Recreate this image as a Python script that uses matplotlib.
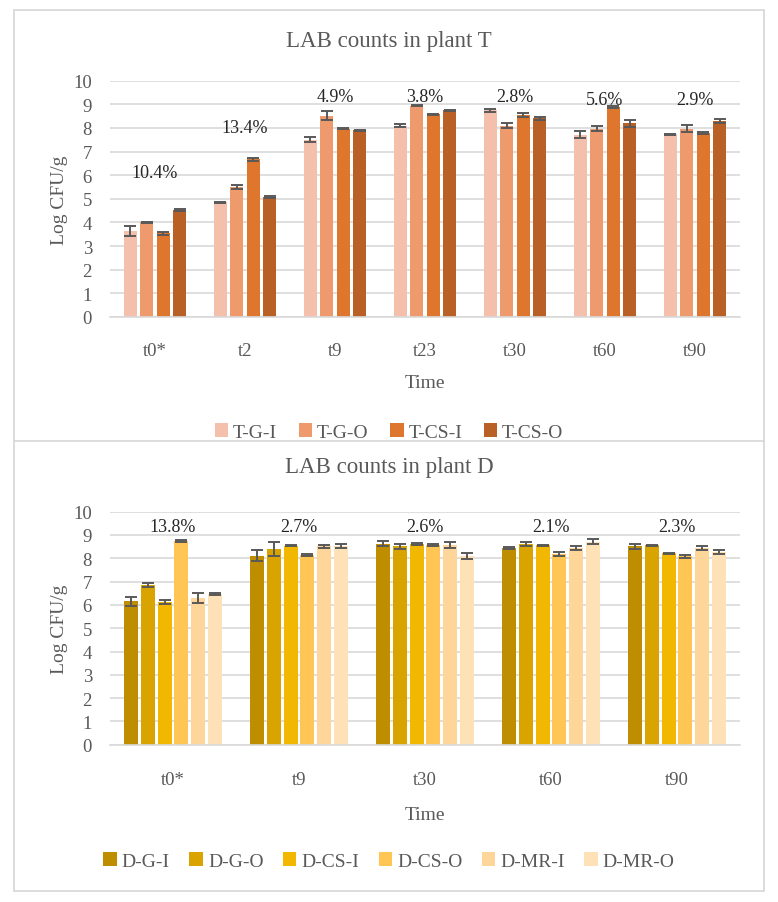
import matplotlib
matplotlib.use('Agg')
import matplotlib.pyplot as plt
from matplotlib.patches import Rectangle
from matplotlib.lines import Line2D
import numpy as np

plt.rcParams['font.family'] = ['Liberation Serif', 'DejaVu Serif']

# ---------------- data: plant T ----------------
t_times = ['t0*', 't2', 't9', 't23', 't30', 't60', 't90']
t_series = ['T-G-I', 'T-G-O', 'T-CS-I', 'T-CS-O']
t_g_i = [3.63, 4.85, 7.51, 8.10, 8.74, 7.72, 7.74]
t_g_o = [4.00, 5.50, 8.52, 8.95, 8.10, 7.97, 7.97]
t_cs_i = [3.54, 6.68, 7.97, 8.57, 8.55, 8.88, 7.79]
t_cs_o = [4.53, 5.08, 7.90, 8.74, 8.41, 8.20, 8.30]
t_g_i_err = [0.22, 0.03, 0.12, 0.07, 0.05, 0.14, 0.02]
t_g_o_err = [0.04, 0.07, 0.20, 0.03, 0.10, 0.10, 0.15]
t_cs_i_err = [0.06, 0.06, 0.03, 0.03, 0.07, 0.03, 0.03]
t_cs_o_err = [0.04, 0.03, 0.03, 0.03, 0.06, 0.14, 0.07]
t_pct = ['10.4%', '13.4%', '4.9%', '3.8%', '2.8%', '5.6%', '2.9%']
t_pct_y = [6.12, 8.0, 9.35, 9.35, 9.35, 9.2, 9.2]
t_colors = ['#F4BFAB', '#EE9A6C', '#DE762E', '#B86025']

# ---------------- data: plant D ----------------
d_times = ['t0*', 't9', 't30', 't60', 't90']
d_series = ['D-G-I', 'D-G-O', 'D-CS-I', 'D-CS-O', 'D-MR-I', 'D-MR-O']
d_g_i = [6.15, 8.11, 8.63, 8.43, 8.51]
d_g_o = [6.85, 8.40, 8.51, 8.60, 8.55]
d_cs_i = [6.12, 8.53, 8.61, 8.55, 8.22]
d_cs_o = [8.75, 8.14, 8.58, 8.18, 8.08]
d_mr_i = [6.29, 8.51, 8.58, 8.45, 8.45]
d_mr_o = [6.47, 8.53, 8.08, 8.71, 8.27]
d_g_i_err = [0.19, 0.24, 0.10, 0.04, 0.09]
d_g_o_err = [0.08, 0.29, 0.10, 0.08, 0.04]
d_cs_i_err = [0.07, 0.02, 0.04, 0.02, 0.02]
d_cs_o_err = [0.04, 0.05, 0.04, 0.09, 0.05]
d_mr_i_err = [0.20, 0.07, 0.12, 0.09, 0.09]
d_mr_o_err = [0.05, 0.10, 0.13, 0.10, 0.09]
d_pct = ['13.8%', '2.7%', '2.6%', '2.1%', '2.3%']
d_pct_y = [9.35, 9.35, 9.35, 9.35, 9.35]
d_colors = ['#BE8E00', '#D9A300', '#F2B700', '#FFC655', '#FFD699', '#FFE1B8']

GRAY = '#595959'
GRID = '#D9D9D9'

W, H = 778, 903
fig = plt.figure(figsize=(W / 100, H / 100), dpi=100)


def px_box(x0, y_top, x1, y_bot):
    return [x0 / W, 1 - y_bot / H, (x1 - x0) / W, (y_bot - y_top) / H]


def draw(ax, times, series, values, errs, colors, pcts, pct_y, slot, bw, title,
         title_y, legend_y, legend_gap, xpad, xlabelpad):
    x = np.arange(len(times))
    n = len(series)
    handles = []
    for i, (name, vals, er, col) in enumerate(zip(series, values, errs, colors)):
        off = (i - (n - 1) / 2) * slot
        b = ax.bar(x + off, vals, width=bw, color=col, label=name, zorder=2)
        ax.errorbar(x + off, vals, yerr=er, fmt='none', ecolor=GRAY,
                    elinewidth=1.4, capsize=4.5, capthick=1.4, zorder=3)
        handles.append(b)
    for xi, s, yy in zip(x, pcts, pct_y):
        ax.text(xi, yy, s, ha='center', va='center', fontsize=13,
                color='#262626', zorder=4)
    ax.set_xlim(-0.5, len(times) - 0.5)
    ax.set_ylim(0, 10)
    ax.set_yticks(range(0, 11))
    ax.set_xticks(x)
    ax.set_xticklabels(times)
    ax.yaxis.grid(True, color=GRID, linewidth=1.2, zorder=0)
    ax.set_axisbelow(True)
    for s in ['top', 'right', 'left']:
        ax.spines[s].set_visible(False)
    ax.spines['bottom'].set_color(GRID)
    ax.spines['bottom'].set_linewidth(1.2)
    ax.tick_params(axis='both', length=0, colors=GRAY, labelsize=13.5)
    ax.tick_params(axis='y', pad=13)
    ax.tick_params(axis='x', pad=xpad)
    ax.set_xlabel('Time', fontsize=14, color=GRAY, labelpad=xlabelpad)
    ax.set_ylabel('Log CFU/g', fontsize=14, color=GRAY, labelpad=4)
    fig.text(0.5, 1 - title_y / H, title, ha='center', va='center',
             fontsize=16.5, color=GRAY)
    fig.legend(handles=handles, labels=series, loc='center',
               bbox_to_anchor=(0.5, 1 - legend_y / H), ncol=n, frameon=False,
               fontsize=14, labelcolor=GRAY, handlelength=0.7, handleheight=0.7,
               handletextpad=0.25, columnspacing=legend_gap)


ax1 = fig.add_axes(px_box(110, 81.7, 740, 318))
draw(ax1, t_times, t_series, [t_g_i, t_g_o, t_cs_i, t_cs_o],
     [t_g_i_err, t_g_o_err, t_cs_i_err, t_cs_o_err], t_colors, t_pct, t_pct_y,
     slot=0.183, bw=0.145, title='LAB counts in plant T', title_y=42,
     legend_y=433, legend_gap=1.1, xpad=18, xlabelpad=11)

ax2 = fig.add_axes(px_box(110, 512.7, 740, 745.7))
draw(ax2, d_times, d_series, [d_g_i, d_g_o, d_cs_i, d_cs_o, d_mr_i, d_mr_o],
     [d_g_i_err, d_g_o_err, d_cs_i_err, d_cs_o_err, d_mr_i_err, d_mr_o_err],
     d_colors, d_pct, d_pct_y, slot=0.1325, bw=0.111,
     title='LAB counts in plant D', title_y=468, legend_y=862, legend_gap=1.0,
     xpad=19, xlabelpad=13)

# outer frame and divider
fig.add_artist(Rectangle((14 / W, 1 - 891.5 / H), (764 - 14) / W, (891.5 - 10.5) / H,
                         transform=fig.transFigure, fill=False, edgecolor=GRID,
                         linewidth=1.3))
fig.add_artist(Line2D([14 / W, 764 / W], [1 - 441.5 / H, 1 - 441.5 / H],
                      transform=fig.transFigure, color=GRID, linewidth=1.3))

fig.savefig('out.png', dpi=100, facecolor='white')
